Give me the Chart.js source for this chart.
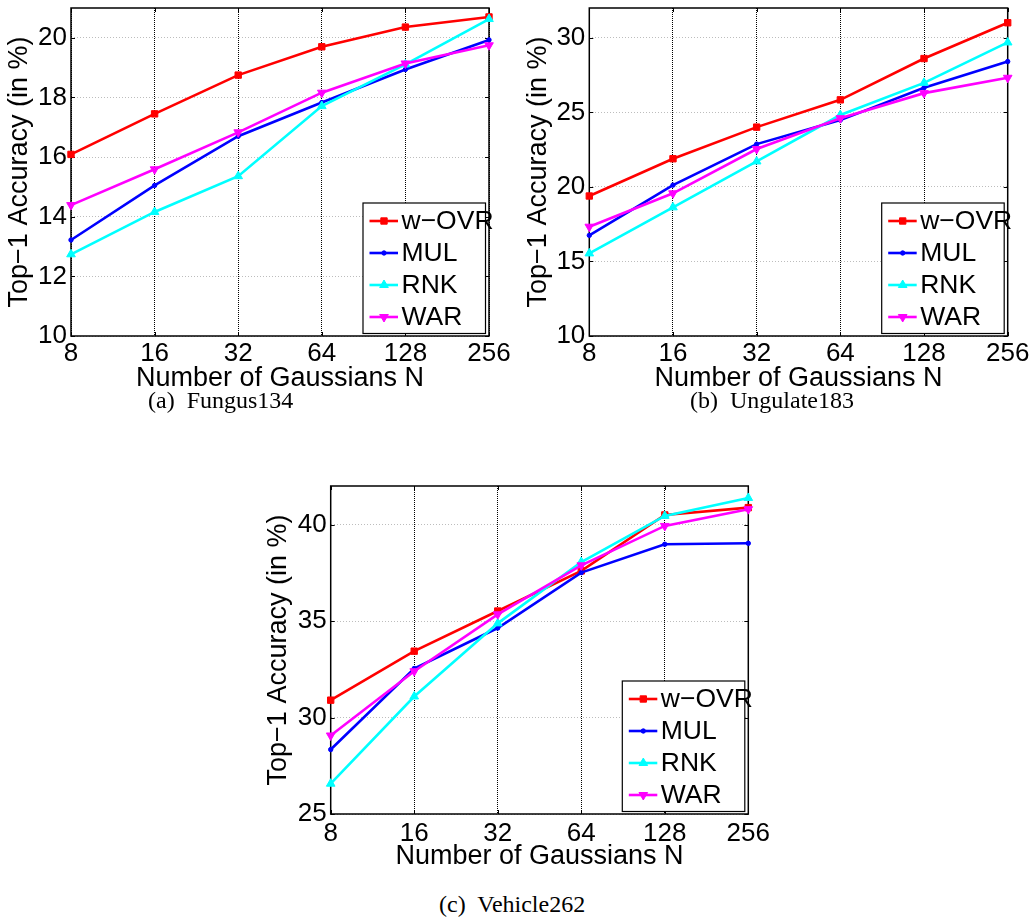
<!DOCTYPE html>
<html>
<head>
<meta charset="utf-8">
<script src="https://cdn.jsdelivr.net/npm/chart.js"></script>
<style>
    body { margin: 0; background: #fff; }
    #wrap { position: relative; width: 1032px; height: 920px; background: #fff; }
    canvas { position: absolute; }
    .caption {
        position: absolute;
        font-family: "Liberation Serif", "Times New Roman", serif;
        font-size: 24px;
        line-height: 1;
        white-space: pre;
        color: #000;
    }
</style>
</head>
<body>
<div id="wrap">
    <canvas id="chartFungus" width="520" height="400" style="left:0px; top:0px;"></canvas>
    <canvas id="chartUngulate" width="512" height="400" style="left:520px; top:0px;"></canvas>
    <canvas id="chartVehicle" width="540" height="408" style="left:250px; top:470px;"></canvas>
    <div class="caption" style="left:148px; top:388px;">(a)  Fungus134</div>
    <div class="caption" style="left:690px; top:388px;">(b)  Ungulate183</div>
    <div class="caption" style="left:439px; top:892px;">(c)  Vehicle262</div>
</div>
<script>
// DATA
const gaussians = ['8', '16', '32', '64', '128', '256'];
const methods = ['w\u2212OVR', 'MUL', 'RNK', 'WAR'];

// (a) Fungus134
const fungusWOVR = [16.09, 17.45, 18.75, 19.70, 20.36, 20.70];
const fungusMUL  = [13.22, 15.05, 16.70, 17.83, 18.94, 19.93];
const fungusRNK  = [12.74, 14.16, 15.36, 17.71, 19.11, 20.63];
const fungusWAR  = [14.39, 15.59, 16.83, 18.16, 19.14, 19.75];
const fungusTicks = [10, 12, 14, 16, 18, 20];

// (b) Ungulate183
const ungulateWOVR = [19.39, 21.89, 24.01, 25.84, 28.61, 31.01];
const ungulateMUL  = [16.75, 20.12, 22.87, 24.48, 26.65, 28.41];
const ungulateRNK  = [15.54, 18.63, 21.71, 24.82, 26.98, 29.69];
const ungulateWAR  = [17.33, 19.57, 22.54, 24.61, 26.29, 27.32];
const ungulateTicks = [10, 15, 20, 25, 30];

// (c) Vehicle262
const vehicleWOVR = [30.90, 33.44, 35.52, 37.60, 40.50, 40.88];
const vehicleMUL  = [28.34, 32.54, 34.64, 37.51, 38.98, 39.03];
const vehicleRNK  = [26.57, 31.09, 34.88, 38.06, 40.45, 41.38];
const vehicleWAR  = [29.07, 32.40, 35.35, 37.89, 39.93, 40.80];
const vehicleTicks = [25, 30, 35, 40];

// STYLE
const lineColors = ['#ff0000', '#0000ff', '#00ffff', '#ff00ff'];
const markers = ['rect', 'circle', 'triangle', 'triangle'];
const markerRotation = [0, 0, 0, 180];
const markerRadius = [4.5, 2.2, 5, 5];
const fontFamily = '"Liberation Sans", Arial, Helvetica, sans-serif';

// gambar marker kecil untuk legend
function drawMarker(ctx, style, rotation, r, x, y) {
    ctx.beginPath();
    if (style === 'rect') {
        const s = r * Math.SQRT1_2;
        ctx.rect(x - s, y - s, 2 * s, 2 * s);
    } else if (style === 'circle') {
        ctx.arc(x, y, r, 0, Math.PI * 2);
    } else {
        let rad = rotation * Math.PI / 180;
        for (let k = 0; k < 3; k++) {
            const px = x + Math.sin(rad) * r;
            const py = y - Math.cos(rad) * r;
            if (k === 0) ctx.moveTo(px, py); else ctx.lineTo(px, py);
            rad += Math.PI * 2 / 3;
        }
        ctx.closePath();
    }
    ctx.fill();
    ctx.stroke();
}

// KOTAK SUMBU + TICK KE DALAM (gaya MATLAB)
const boxPlugin = {
    id: 'boxPlugin',
    beforeDatasetsDraw(chart) {
        const ctx = chart.ctx;
        const a = chart.chartArea;
        const x = chart.scales.x;
        const y = chart.scales.y;
        const tl = 4;
        ctx.save();
        ctx.strokeStyle = '#000';
        ctx.lineWidth = 1;
        ctx.beginPath();
        x.ticks.forEach((t, i) => {
            const px = Math.round(x.getPixelForTick(i)) + 0.5;
            ctx.moveTo(px, a.bottom); ctx.lineTo(px, a.bottom - tl);
            ctx.moveTo(px, a.top); ctx.lineTo(px, a.top + tl);
        });
        y.ticks.forEach(t => {
            const py = Math.round(y.getPixelForValue(t.value)) + 0.5;
            ctx.moveTo(a.left, py); ctx.lineTo(a.left + tl, py);
            ctx.moveTo(a.right, py); ctx.lineTo(a.right - tl, py);
        });
        ctx.stroke();
        ctx.lineWidth = 1.5;
        ctx.strokeRect(a.left, a.top, a.right - a.left, a.bottom - a.top);
        ctx.restore();
    }
};

// LEGEND DI POJOK KANAN BAWAH
const legendPlugin = {
    id: 'legendPlugin',
    afterDraw(chart) {
        const ctx = chart.ctx;
        const a = chart.chartArea;
        const w = 122.5, h = 130.5;
        const right = a.right - 3.5;
        const bottom = a.bottom - 2.5;
        const left = right - w;
        const top = bottom - h;
        ctx.save();
        ctx.fillStyle = '#fff';
        ctx.fillRect(left, top, w, h);
        ctx.strokeStyle = '#000';
        ctx.lineWidth = 1.2;
        ctx.strokeRect(left, top, w, h);
        ctx.font = '26.5px ' + fontFamily;
        ctx.textBaseline = 'middle';
        ctx.textAlign = 'left';
        chart.data.datasets.forEach((ds, i) => {
            const cy = top + 18 + i * 32;
            ctx.strokeStyle = ds.borderColor;
            ctx.fillStyle = ds.borderColor;
            ctx.lineWidth = ds.borderWidth;
            ctx.beginPath();
            ctx.moveTo(left + 6.5, cy);
            ctx.lineTo(left + 35, cy);
            ctx.stroke();
            ctx.lineWidth = 1;
            drawMarker(ctx, ds.pointStyle, ds.pointRotation, ds.pointRadius, left + 21, cy);
            ctx.fillStyle = '#000';
            ctx.fillText(ds.label, left + 38.5, cy + 1);
        });
        ctx.restore();
    }
};

function makeDatasets(series) {
    return series.map((values, i) => ({
        label: methods[i],
        data: values,
        borderColor: lineColors[i],
        backgroundColor: lineColors[i],
        borderWidth: 2.6,
        pointStyle: markers[i],
        pointRotation: markerRotation[i],
        pointRadius: markerRadius[i],
        pointBorderWidth: 1,
        pointBackgroundColor: lineColors[i],
        pointBorderColor: lineColors[i],
        tension: 0,
        clip: false,
        order: 4 - i // dataset terakhir digambar paling atas
    }));
}

function makeChart(id, series, yTicks, yMin, yMax, g) {
    const tickFont = { family: fontFamily, size: 26, lineHeight: 1 };
    const titleFont = { family: fontFamily, size: 27, lineHeight: 1 };
    return new Chart(document.getElementById(id), {
        type: 'line',
        data: {
            labels: gaussians,
            datasets: makeDatasets(series)
        },
        options: {
            responsive: false,
            animation: false,
            events: [],
            layout: {
                autoPadding: false,
                padding: { left: 0, right: g.padRight, top: g.padTop, bottom: 0 }
            },
            scales: {
                x: {
                    type: 'category',
                    offset: false,
                    grid: {
                        color: '#000',
                        lineWidth: 1,
                        drawTicks: false
                    },
                    border: { display: false, dash: [1, 1] },
                    ticks: {
                        color: '#000',
                        font: tickFont,
                        padding: g.xTickPad,
                        autoSkip: false,
                        maxRotation: 0
                    },
                    title: {
                        display: true,
                        text: 'Number of Gaussians N',
                        color: '#000',
                        font: titleFont,
                        padding: { top: 0, bottom: 8 }
                    },
                    afterFit(scale) {
                        scale.height = 64;
                        scale.paddingLeft = 0;
                        scale.paddingRight = 0;
                    }
                },
                y: {
                    min: yMin,
                    max: yMax,
                    grid: {
                        color: '#bdbdbd',
                        lineWidth: 1,
                        drawTicks: false
                    },
                    border: { display: false, dash: [1, 2] },
                    ticks: {
                        color: '#000',
                        font: tickFont,
                        padding: 4
                    },
                    afterBuildTicks(scale) {
                        scale.ticks = yTicks.map(v => ({ value: v }));
                    },
                    title: {
                        display: true,
                        text: 'Top\u22121 Accuracy (in %)',
                        color: '#000',
                        font: titleFont,
                        padding: { top: g.yTitlePad, bottom: 0 }
                    },
                    afterFit(scale) {
                        scale.width = g.yWidth;
                        scale.paddingTop = 0;
                        scale.paddingBottom = 0;
                    }
                }
            },
            plugins: {
                legend: { display: false },
                tooltip: { enabled: false }
            }
        },
        plugins: [boxPlugin, legendPlugin]
    });
}

// GRAFIK (a) Fungus134
makeChart('chartFungus', [fungusWOVR, fungusMUL, fungusRNK, fungusWAR], fungusTicks, 10, 21,
    { yWidth: 71, padRight: 31, padTop: 8, xTickPad: 5, yTitlePad: 6.5 });

// GRAFIK (b) Ungulate183
makeChart('chartUngulate', [ungulateWOVR, ungulateMUL, ungulateRNK, ungulateWAR], ungulateTicks, 10, 32,
    { yWidth: 69.3, padRight: 24.3, padTop: 8, xTickPad: 5, yTitlePad: 5 });

// GRAFIK (c) Vehicle262
makeChart('chartVehicle', [vehicleWOVR, vehicleMUL, vehicleRNK, vehicleWAR], vehicleTicks, 25, 42,
    { yWidth: 80.7, padRight: 41.7, padTop: 16, xTickPad: 7, yTitlePad: 15 });
</script>
</body>
</html>
